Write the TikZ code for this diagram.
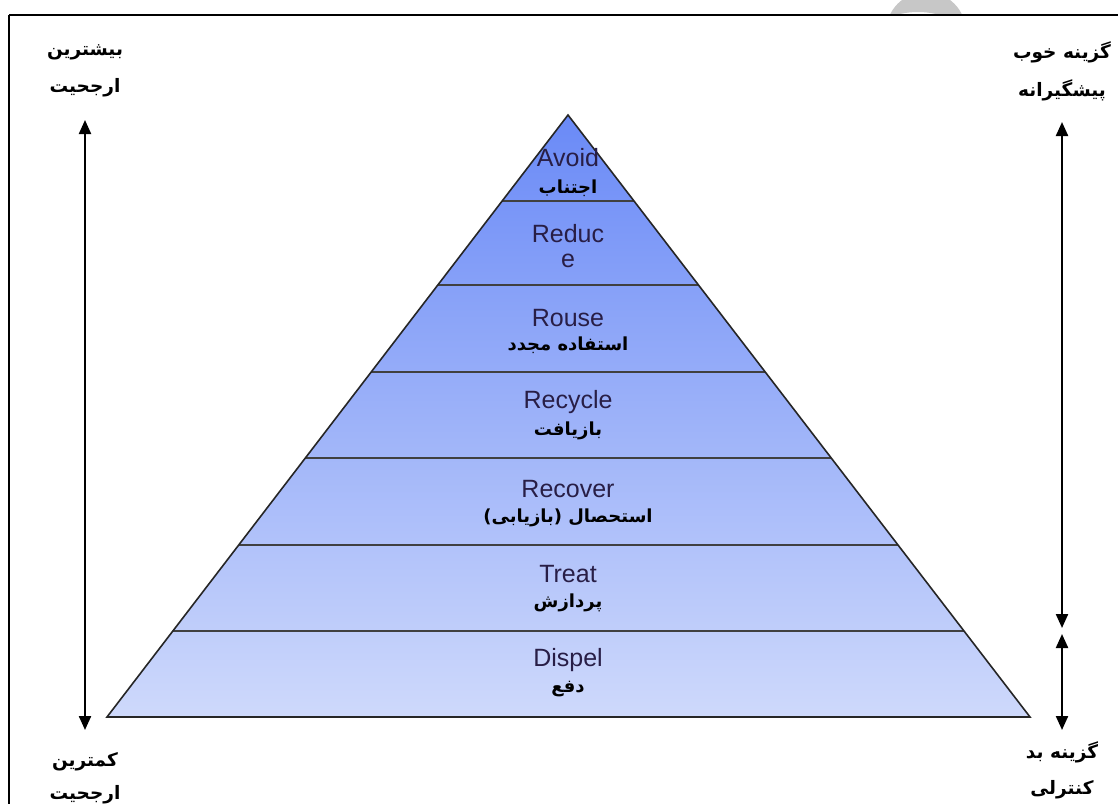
\documentclass[tikz,border=0pt]{standalone}
\usepackage{fontspec}
\setmainfont{Liberation Sans}
\newfontfamily\farsi[Script=Arabic]{DejaVu Sans}
\TeXXeTstate=1
\usetikzlibrary{arrows.meta, calc, positioning}
\definecolor{pyrtop}{RGB}{106,138,247}
\definecolor{pyrbot}{RGB}{206,217,251}
\definecolor{entext}{RGB}{40,30,70}
\newcommand{\fa}[1]{\beginR #1\endR}

\begin{document}
\begin{tikzpicture}[x=1pt, y=-1pt, >={Triangle[width=12pt,length=14pt]}]
    \tikzset{
      en/.style={font=\fontsize{25}{25}\selectfont, text=entext, inner sep=0pt, align=center},
      fa/.style={font=\farsi\bfseries\fontsize{18}{21}\selectfont, inner sep=0pt},
      side/.style={font=\farsi\bfseries\fontsize{18.5}{22}\selectfont, inner sep=0pt},
      level/.style={line width=1.4pt, black!75},
      arr/.style={<->, line width=2.2pt}
    }
    \clip (0,0) rectangle (1118,803);
    \fill[white] (0,0) rectangle (1118,803);

    % gray mark above the frame
    \begin{scope}
      \clip (860,0) rectangle (1000,15);
      \fill[black!22, even odd rule] (926,32) circle (40) (918,92) circle (80);
    \end{scope}

    % frame
    \draw[line width=2.6pt] (9,15) -- (1125,15);
    \draw[line width=2.6pt] (9,15) -- (9,810);

    % pyramid
    \coordinate (apex) at (568,115);
    \coordinate (baseL) at (107,717);
    \coordinate (baseR) at (1030,717);
    \shade[top color=pyrtop, bottom color=pyrbot] (apex) -- (baseL) -- (baseR) -- cycle;
    \foreach \y in {201,285,372,458,545,631} {
      \draw[level] ($(apex)!{(\y-115)/602}!(baseL)$) -- ($(apex)!{(\y-115)/602}!(baseR)$);
    }
    \draw[line width=1.6pt, black!85] (apex) -- (baseL) -- (baseR) -- cycle;

    % levels
    \node[en] (avoid) at (568,158) {Avoid};
    \node[fa] (avoidfa) at (568,188) {\fa{اجتناب}};

    \node[en] (reduce) at (568,246) {Reduc\\e};
    \begin{scope}
      \clip (440,202) rectangle (700,281);
      \node[fa] (reducefa) at (568,294) {\fa{کاهش}};
    \end{scope}

    \node[en] (reuse) at (568,318) {Rouse};
    \node[fa] (reusefa) at (568,345) {\fa{استفاده مجدد}};

    \node[en] (recycle) at (568,402) {Recycle};
    \node[fa] (recyclefa) at (568,431) {\fa{بازیافت}};

    \node[en] (recover) at (568,489) {Recover};
    \node[fa] (recoverfa) at (568,518) {\fa{استحصال (بازیابی)}};

    \node[en] (treat) at (568,574) {Treat};
    \node[fa] (treatfa) at (568,603) {\fa{پردازش}};

    \node[en] (dispel) at (568,660) {Dispel};
    \node[fa] (dispelfa) at (568,689) {\fa{دفع}};

    % side labels
    \node[side] (most) at (85,52) {\fa{بیشترین}};
    \node[side] (mostpref) at (85,88) {\fa{ارجحیت}};
    \node[side] (least) at (85,762) {\fa{کمترین}};
    \node[side] (leastpref) at (85,795) {\fa{ارجحیت}};
    \node[side] (good) at (1062,52) {\fa{گزینه خوب}};
    \node[side] (goodkind) at (1062,90) {\fa{پیشگیرانه}};
    \node[side] (bad) at (1062,752) {\fa{گزینه بد}};
    \node[side] (badkind) at (1062,790) {\fa{کنترلی}};

    % arrows
    \coordinate (lefttop) at (85,120);
    \coordinate (leftbot) at (85,730);
    \coordinate (righttop) at (1062,122);
    \coordinate (rightmid) at (1062,628);
    \coordinate (rightmid2) at (1062,634);
    \coordinate (rightbot) at (1062,730);
    \draw[arr] (lefttop) -- (leftbot);
    \draw[arr] (righttop) -- (rightmid);
    \draw[arr] (rightmid2) -- (rightbot);

\end{tikzpicture}
\end{document}
